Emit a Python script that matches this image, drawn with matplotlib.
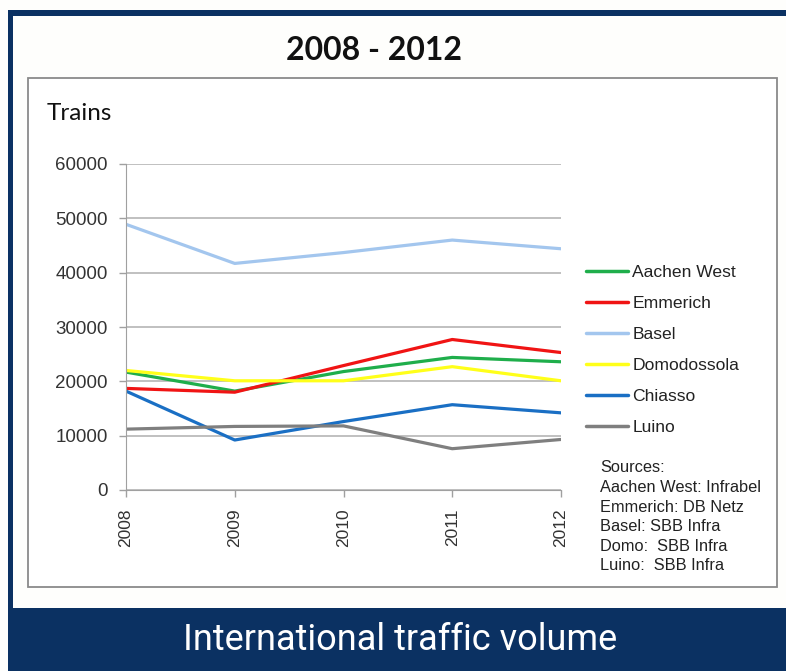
import matplotlib as mpl
mpl.use('Agg')
import matplotlib.pyplot as plt
from matplotlib.patches import Rectangle

years = [2008, 2009, 2010, 2011, 2012]
aachen_west = [21700, 18200, 21800, 24400, 23600]
emmerich = [18700, 18000, 22900, 27700, 25300]
basel = [48900, 41700, 43700, 46000, 44400]
domodossola = [22000, 20100, 20100, 22700, 20100]
chiasso = [18200, 9200, 12600, 15700, 14200]
luino = [11200, 11700, 11800, 7600, 9300]

series = [("Aachen West", aachen_west, "#1fae4b"),
          ("Emmerich", emmerich, "#f01414"),
          ("Basel", basel, "#a3c6ee"),
          ("Domodossola", domodossola, "#ffff1a"),
          ("Chiasso", chiasso, "#1a6fc4"),
          ("Luino", luino, "#7f7f7f")]

sources = ["Sources:", "Aachen West: Infrabel", "Emmerich: DB Netz",
           "Basel: SBB Infra", "Domo:  SBB Infra", "Luino:  SBB Infra"]

W, H = 786, 671
navy = "#0b3162"
fig = plt.figure(figsize=(W / 100, H / 100), dpi=100)
fig.patch.set_facecolor("#fefefc")

def px(x0, y0, w, h, **kw):
    # rectangle in pixel units (top-left origin)
    fig.patches.append(Rectangle((x0 / W, 1 - (y0 + h) / H), w / W, h / H,
                                 transform=fig.transFigure, zorder=-5, **kw))

# frame
px(8, 10, W - 8, 6, facecolor=navy, edgecolor="none")
px(8, 10, 5, H - 10, facecolor=navy, edgecolor="none")
px(8, 608, W - 8, H - 608, facecolor=navy, edgecolor="none")
px(28, 78, 749, 509, facecolor="white", edgecolor="#8a8a8a", lw=1.3)

fig.text(374 / W, 1 - 50 / H, "2008 - 2012", ha="center", va="center",
         fontsize=23, fontweight="bold", family=["Lato", "DejaVu Sans"], color="#111111")
fig.text(47 / W, 1 - 113 / H, "Trains", ha="left", va="center",
         fontsize=17.5, family=["Lato", "DejaVu Sans"], color="#111111")
fig.text(400 / W, 1 - 640 / H, "International traffic volume", ha="center", va="center",
         fontsize=26, family=["Liberation Sans Narrow", "Roboto", "DejaVu Sans"], color="white")

ax = fig.add_axes([126 / W, 1 - 490 / H, 435 / W, 326 / H])
ax.patch.set_alpha(0)
for name, vals, col in series:
    ax.plot(years, vals, color=col, lw=2.3, label=name, solid_capstyle="round")

ax.set_xlim(2008, 2012)
ax.set_ylim(0, 60000)
ax.set_yticks(range(0, 60001, 10000))
ax.set_xticks(years)
ax.set_xticklabels([str(y) for y in years], rotation=90)
ax.yaxis.grid(True, color="#b5b5b5", lw=1.2)
ax.set_axisbelow(True)
for s in ["top", "right"]:
    ax.spines[s].set_visible(False)
ax.spines["left"].set_color("#a0a0a0")
ax.spines["bottom"].set_color("#a0a0a0")
ax.tick_params(axis="both", colors="#a0a0a0", length=5, width=1, labelcolor="#333333")
ax.tick_params(axis="x", pad=8.5, labelsize=12.5)
ax.tick_params(axis="y", pad=8, labelsize=13.5)
for lab in ax.get_xticklabels() + ax.get_yticklabels():
    lab.set_family(["Liberation Sans", "DejaVu Sans"])

leg = ax.legend(loc="center left", bbox_to_anchor=(586 / W, 1 - 350 / H),
                bbox_transform=fig.transFigure, frameon=False, handlelength=2.4,
                handletextpad=0.25, labelspacing=0.9, borderpad=0, borderaxespad=0,
                prop={"family": ["Liberation Sans", "DejaVu Sans"], "size": 12.6})
for t in leg.get_texts():
    t.set_color("#222222")
for l in leg.get_lines():
    l.set_linewidth(2.5)

for i, line in enumerate(sources):
    fig.text(600 / W, 1 - (468 + i * 19.6) / H, line, ha="left", va="center",
             fontsize=11.8, family=["Liberation Sans", "DejaVu Sans"], color="#222222")

fig.savefig("out.png", dpi=100, facecolor=fig.get_facecolor())
